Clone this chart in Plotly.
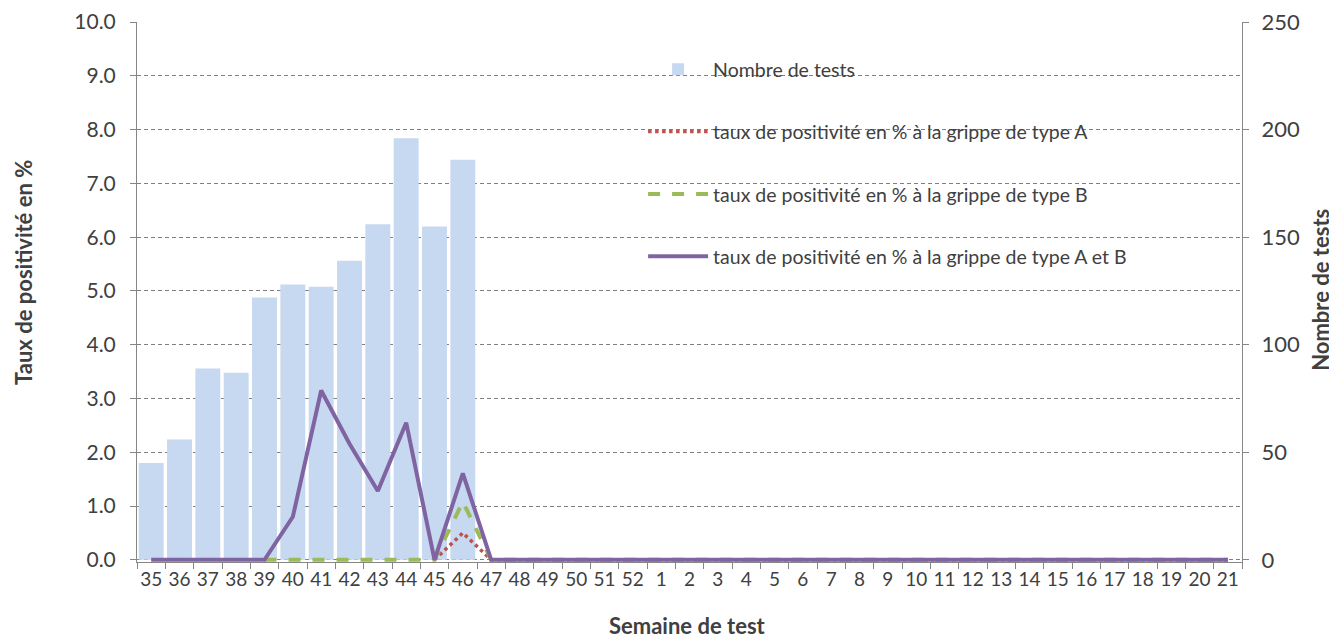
import plotly.graph_objects as go

weeks = [str(w) for w in list(range(35, 53)) + list(range(1, 22))]

# Nombre de tests (barres, axe de droite)
tests = [45, 56, 89, 87, 122, 128, 127, 139, 156, 196, 155, 186] + [None] * 27

# Taux de positivité (%) (axe de gauche)
taux_a = [None] * 10 + [0, 0.5, 0] + [0] * 26
taux_b = [None] * 4 + [0, 0, 0, 0, 0, 0, 0, 1.08, 0] + [0] * 26
taux_ab = [0, 0, 0, 0, 0, 0.8, 3.15, 2.16, 1.28, 2.55, 0, 1.61, 0] + [0] * 26

left_ticks = [0, 1, 2, 3, 4, 5, 6, 7, 8, 9, 10]
right_ticks = [0, 50, 100, 150, 200, 250]

font_fam = "Lato, 'Open Sans', sans-serif"
txt = "#404040"
axis_col = "#868686"
grid_col = "#7F7F7F"

fig = go.Figure()
fig.add_trace(go.Bar(
    x=weeks, y=tests, name="Nombre de tests", yaxis="y",
    marker=dict(color="#C6D9F1", line=dict(width=0)),
    legendgroup="g1",
))
fig.add_trace(go.Scatter(
    x=weeks, y=taux_a, name="taux de positivité en % à la grippe de type A",
    yaxis="y2", mode="lines", line=dict(color="#C0504D", width=3.5, dash="dot"),
    legendgroup="g2",
))
fig.add_trace(go.Scatter(
    x=weeks, y=taux_b, name="taux de positivité en % à la grippe de type B",
    yaxis="y2", mode="lines", line=dict(color="#9BBB59", width=4, dash="dash"),
    legendgroup="g3",
))
fig.add_trace(go.Scatter(
    x=weeks, y=taux_ab, name="taux de positivité en % à la grippe de type A et B",
    yaxis="y2", mode="lines", line=dict(color="#8064A2", width=4),
    legendgroup="g4",
))

title_font = dict(family=font_fam, size=22, color=txt)

fig.update_layout(
    width=1329, height=630,
    margin=dict(l=129, r=95, t=14, b=76, autoexpand=False),
    paper_bgcolor="white", plot_bgcolor="white",
    font=dict(family=font_fam, color=txt, size=17),
    bargap=0.12,
    showlegend=True,
    legend=dict(
        x=0.458, y=0.948, xanchor="left", yanchor="top",
        bgcolor="rgba(0,0,0,0)", font=dict(size=19.5, color=txt, family=font_fam),
        tracegroupgap=34, itemwidth=60,
    ),
    xaxis=dict(
        type="category", categoryorder="array", categoryarray=weeks,
        showline=True, linecolor=axis_col, linewidth=1,
        ticks="outside", tickson="boundaries", ticklen=6, tickcolor=axis_col,
        tickangle=0, tickfont=dict(size=19, color=txt),
        showgrid=False, automargin=False,
    ),
    yaxis=dict(
        side="right", range=[-1, 250.05], tickvals=right_ticks,
        showline=True, linecolor=axis_col, linewidth=1,
        ticks="outside", ticklen=6, tickcolor=axis_col,
        tickfont=dict(size=22, color=txt), ticklabelstandoff=8,
        ticklabeloverflow="allow",
        showgrid=True, gridcolor=grid_col, gridwidth=1, griddash="4px,3px",
        minor=dict(dtick=25, tick0=0, showgrid=True, gridcolor=grid_col,
                   gridwidth=1, griddash="4px,3px", ticks=""),
        zeroline=False, automargin=False,
    ),
    yaxis2=dict(
        overlaying="y", side="left", range=[-0.04, 10.002],
        tickvals=left_ticks, tickformat=".1f",
        showline=True, linecolor=axis_col, linewidth=1,
        ticks="outside", ticklen=6, tickcolor=axis_col,
        tickfont=dict(size=21, color=txt), ticklabelstandoff=10,
        ticklabeloverflow="allow",
        showgrid=False, zeroline=False, automargin=False,
    ),
    annotations=[
        dict(text="<b>Taux de positivité en %</b>", xref="paper", yref="paper",
             x=-0.1032, y=0.537, textangle=-90, showarrow=False,
             xanchor="center", yanchor="middle", font=title_font),
        dict(text="<b>Nombre de tests</b>", xref="paper", yref="paper",
             x=1.0715, y=0.504, textangle=-90, showarrow=False,
             xanchor="center", yanchor="middle", font=title_font),
        dict(text="<b>Semaine de test</b>", xref="paper", yref="paper",
             x=0.4986, y=-0.1175, showarrow=False,
             xanchor="center", yanchor="middle", font=title_font),
    ],
)

fig.write_html("out.html")
